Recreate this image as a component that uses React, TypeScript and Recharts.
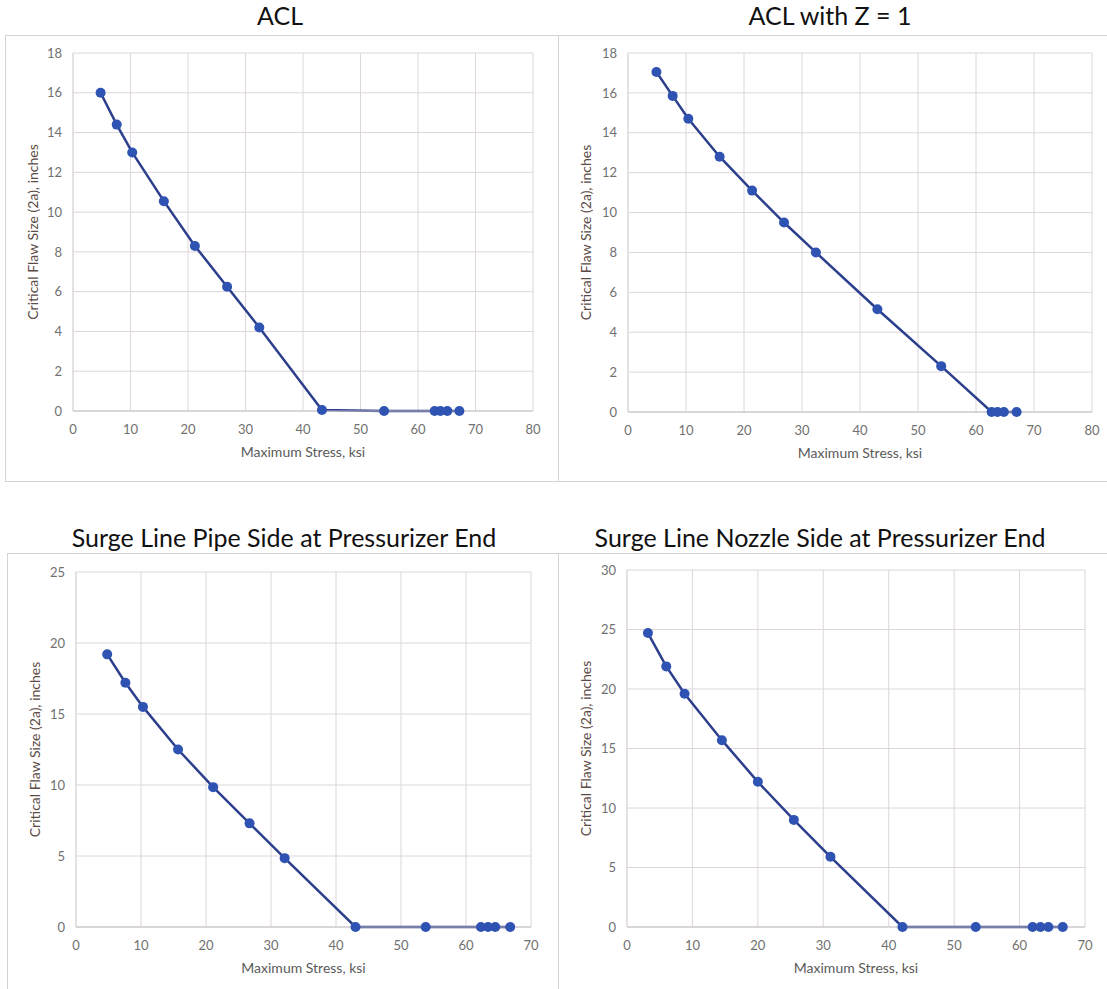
import { LineChart, Line, XAxis, YAxis, CartesianGrid } from 'recharts';

// ACL
const aclStress = [4.8, 7.6, 10.3, 15.8, 21.2, 26.8, 32.4, 43.3, 54.1, 62.9, 63.9, 65.1, 67.2];
const aclFlaw = [16.0, 14.4, 13.0, 10.55, 8.3, 6.25, 4.2, 0.05, 0, 0, 0, 0, 0];

// ACL with Z = 1
const aclZStress = [4.9, 7.7, 10.4, 15.8, 21.4, 26.9, 32.4, 43.0, 54.0, 62.7, 63.7, 64.8, 67.0];
const aclZFlaw = [17.05, 15.85, 14.7, 12.8, 11.1, 9.5, 8.0, 5.15, 2.3, 0, 0, 0, 0];

// Surge line, pipe side
const pipeStress = [4.8, 7.6, 10.3, 15.7, 21.1, 26.7, 32.1, 43.0, 53.8, 62.3, 63.4, 64.5, 66.8];
const pipeFlaw = [19.2, 17.2, 15.5, 12.5, 9.85, 7.3, 4.85, 0, 0, 0, 0, 0, 0];

// Surge line, nozzle side
const nozzleStress = [3.2, 6.0, 8.8, 14.5, 20.0, 25.5, 31.1, 42.1, 53.3, 62.0, 63.2, 64.4, 66.6];
const nozzleFlaw = [24.7, 21.9, 19.6, 15.7, 12.2, 9.0, 5.9, 0, 0, 0, 0, 0, 0];

const xTicks80 = [0, 10, 20, 30, 40, 50, 60, 70, 80];
const xTicks70 = [0, 10, 20, 30, 40, 50, 60, 70];
const yTicks18 = [0, 2, 4, 6, 8, 10, 12, 14, 16, 18];
const yTicks25 = [0, 5, 10, 15, 20, 25];
const yTicks30 = [0, 5, 10, 15, 20, 25, 30];

const FONT = 'Lato, "Open Sans", sans-serif';
const GRID = '#dcd6dc';
const LINE = '#2c3f8c';
const DOT = '#2f53b3';

const toRows = (stress: number[], flaw: number[]) =>
  stress.map((s, i) => ({ stress: s, flaw: flaw[i] }));

type Box = { left: number; top: number; width: number; height: number };
type Plot = { left: number; top: number; right: number; bottom: number };

interface PanelProps {
  title: string;
  titleX: number;
  titleY: number;
  box: Box;
  plot: Plot;
  stress: number[];
  flaw: number[];
  xTicks: number[];
  yTicks: number[];
}

function Panel({ title, titleX, titleY, box, plot, stress, flaw, xTicks, yTicks }: PanelProps) {
  const data = toRows(stress, flaw);
  const yAxisW = plot.left - box.left;
  const marginTop = plot.top - box.top;
  const marginRight = box.left + box.width - plot.right;
  const xAxisH = box.top + box.height - plot.bottom;
  const tick = { fontSize: 13, fill: '#707070', fontFamily: FONT };

  return (
    <>
      <div
        style={{
          position: 'absolute',
          left: titleX - 300,
          top: titleY - 16,
          width: 600,
          height: 32,
          lineHeight: '32px',
          textAlign: 'center',
          fontFamily: FONT,
          fontSize: 25,
          color: '#111',
        }}
      >
        {title}
      </div>
      <div
        style={{
          position: 'absolute',
          left: box.left,
          top: box.top,
          width: box.width,
          height: box.height,
          border: '1px solid #d6d3d6',
          boxSizing: 'border-box',
          background: '#fff',
        }}
      />
      <div style={{ position: 'absolute', left: box.left, top: box.top }}>
        <LineChart
          width={box.width}
          height={box.height}
          data={data}
          margin={{ top: marginTop, right: marginRight, left: 0, bottom: 0 }}
        >
          <CartesianGrid stroke={GRID} strokeWidth={1} />
          <XAxis
            type="number"
            dataKey="stress"
            domain={[xTicks[0], xTicks[xTicks.length - 1]]}
            ticks={xTicks}
            height={xAxisH}
            tickSize={0}
            tickMargin={14}
            tickLine={false}
            axisLine={{ stroke: '#c6bfc6' }}
            tick={tick}
            label={{
              value: 'Maximum Stress, ksi',
              position: 'insideBottom',
              offset: xAxisH - 46,
              style: { fontSize: 14, fill: '#5a5a5a', fontFamily: FONT, textAnchor: 'middle' },
            }}
          />
          <YAxis
            type="number"
            dataKey="flaw"
            domain={[yTicks[0], yTicks[yTicks.length - 1]]}
            ticks={yTicks}
            width={yAxisW}
            tickSize={0}
            tickMargin={11}
            tickLine={false}
            axisLine={{ stroke: GRID }}
            tick={tick}
            label={{
              value: 'Critical Flaw Size (2a), inches',
              angle: -90,
              position: 'insideLeft',
              offset: 28,
              style: { fontSize: 14, fill: '#5b4b45', fontFamily: FONT, textAnchor: 'middle' },
            }}
          />
          <Line
            type="linear"
            dataKey="flaw"
            stroke={LINE}
            strokeWidth={2.5}
            dot={{ r: 5, fill: DOT, stroke: DOT, strokeWidth: 0 }}
            isAnimationActive={false}
          />
        </LineChart>
      </div>
    </>
  );
}

export default function App() {
  return (
    <div
      style={{
        position: 'absolute',
        left: 0,
        top: 0,
        width: 1107,
        height: 989,
        background: '#fff',
        overflow: 'hidden',
      }}
    >
      <Panel
        title="ACL"
        titleX={280}
        titleY={15}
        box={{ left: 5, top: 35, width: 554, height: 447 }}
        plot={{ left: 73, top: 53, right: 533, bottom: 411 }}
        stress={aclStress}
        flaw={aclFlaw}
        xTicks={xTicks80}
        yTicks={yTicks18}
      />
      <Panel
        title="ACL with Z = 1"
        titleX={830}
        titleY={15}
        box={{ left: 558, top: 35, width: 552, height: 447 }}
        plot={{ left: 628, top: 53, right: 1092, bottom: 412 }}
        stress={aclZStress}
        flaw={aclZFlaw}
        xTicks={xTicks80}
        yTicks={yTicks18}
      />
      <Panel
        title="Surge Line Pipe Side at Pressurizer End"
        titleX={284}
        titleY={537}
        box={{ left: 7, top: 553, width: 552, height: 442 }}
        plot={{ left: 76, top: 572, right: 531, bottom: 927 }}
        stress={pipeStress}
        flaw={pipeFlaw}
        xTicks={xTicks70}
        yTicks={yTicks25}
      />
      <Panel
        title="Surge Line Nozzle Side at Pressurizer End"
        titleX={820}
        titleY={537}
        box={{ left: 558, top: 553, width: 552, height: 442 }}
        plot={{ left: 627, top: 570, right: 1085, bottom: 927 }}
        stress={nozzleStress}
        flaw={nozzleFlaw}
        xTicks={xTicks70}
        yTicks={yTicks30}
      />
    </div>
  );
}
